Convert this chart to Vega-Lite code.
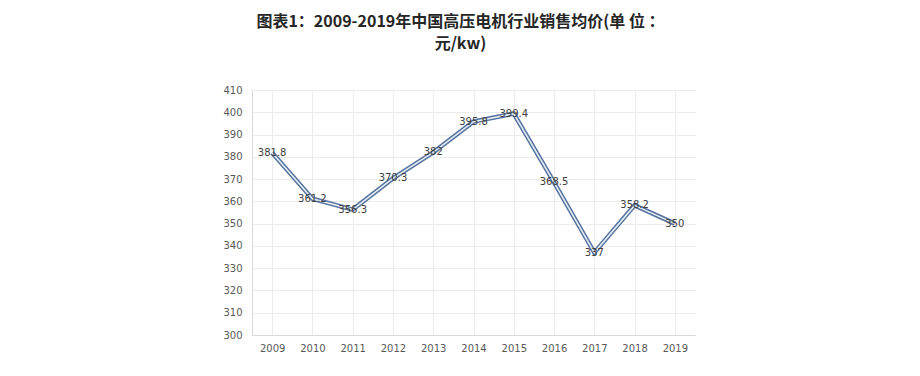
{
  "$schema": "https://vega.github.io/schema/vega-lite/v6.json",
  "autosize": {"type": "none"},
  "width": 443,
  "height": 245,
  "padding": {"left": 252, "top": 90, "right": 225, "bottom": 41},
  "background": "white",
  "title": {
    "text": ["图表1：2009-2019年中国高压电机行业销售均价(单\u00a0位\u00a0：", "元/kw)"],
    "font": "Noto Sans CJK SC",
    "fontSize": 16,
    "fontWeight": "bold",
    "color": "#262626",
    "anchor": "middle",
    "dx": -13,
    "offset": 33,
    "lineHeight": 22
  },
  "config": {
    "view": {"stroke": null},
    "axis": {
      "labelFont": "DejaVu Sans",
      "labelFontSize": 10,
      "labelColor": "#595959",
      "gridColor": "#ececec",
      "domainColor": "#d9d9d9",
      "ticks": false,
      "title": null
    }
  },
  "data": {
    "values": [
      {"year": "2009", "price": 381.8, "label": "381.8"},
      {"year": "2010", "price": 361.2, "label": "361.2"},
      {"year": "2011", "price": 356.3, "label": "356.3"},
      {"year": "2012", "price": 370.3, "label": "370.3"},
      {"year": "2013", "price": 382, "label": "382"},
      {"year": "2014", "price": 395.8, "label": "395.8"},
      {"year": "2015", "price": 399.4, "label": "399.4"},
      {"year": "2016", "price": 368.5, "label": "368.5"},
      {"year": "2017", "price": 337, "label": "337"},
      {"year": "2018", "price": 358.2, "label": "358.2"},
      {"year": "2019", "price": 350, "label": "350"}
    ]
  },
  "encoding": {
    "x": {
      "field": "year",
      "type": "ordinal",
      "scale": {"paddingInner": 0, "paddingOuter": 0},
      "axis": {"labelAngle": 0, "grid": true, "bandPosition": 0, "labelPadding": 8, "domain": true}
    },
    "y": {
      "field": "price",
      "type": "quantitative",
      "scale": {"domain": [300, 410], "zero": false, "nice": false},
      "axis": {"values": [300, 310, 320, 330, 340, 350, 360, 370, 380, 390, 400, 410], "grid": true, "labelPadding": 10, "domain": true}
    }
  },
  "layer": [
    {"mark": {"type": "line", "color": "#55739e", "strokeWidth": 4.5, "strokeJoin": "miter"}},
    {"mark": {"type": "line", "color": "#e4ecf5", "strokeWidth": 1.6, "strokeJoin": "miter"}},
    {
      "mark": {"type": "text", "font": "DejaVu Sans", "fontSize": 10, "color": "#404040", "baseline": "middle", "align": "center"},
      "encoding": {"text": {"field": "label"}}
    }
  ]
}
